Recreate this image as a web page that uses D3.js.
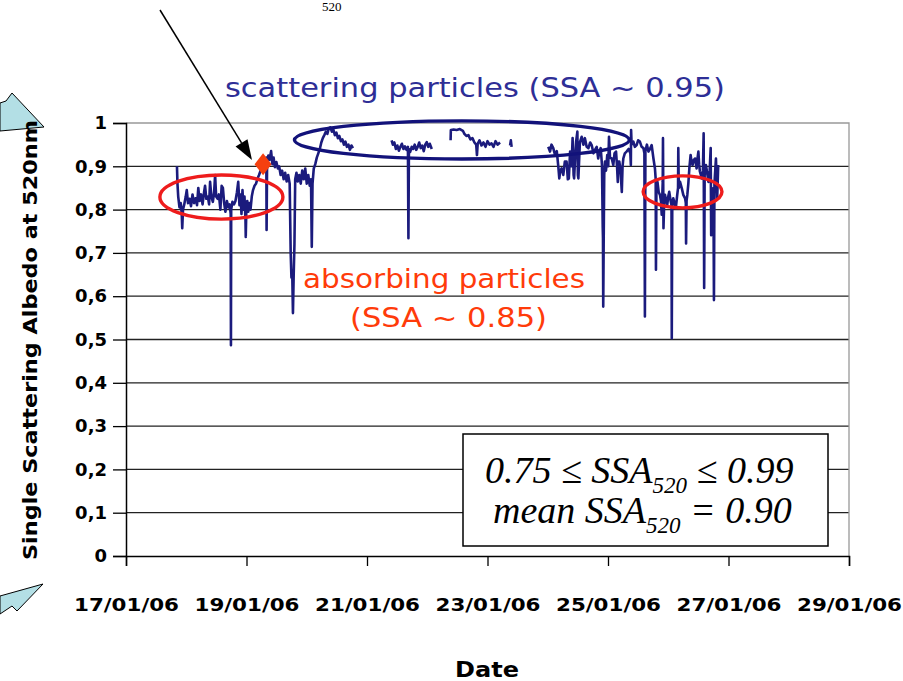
<!DOCTYPE html>
<html><head><meta charset="utf-8">
<script src="https://cdn.jsdelivr.net/npm/d3@7"></script>
<style>body{margin:0;background:#fff}svg{display:block}</style>
</head><body><svg id="c" width="903" height="681"></svg>
<script>
// hours after 17/01/06 00:00 (null value = data gap)
const hours = [
20.3,20.5,20.8,21.3,21.8,22.2,22.4,22.7,23.2,23.8,24.2,24.7,25.3,25.9,26.5,27.1,27.7,28.3,28.8,29.3,29.9,30.5,31.1,31.5,32.0,32.6,33.1,33.5,34.0,34.6,35.1,35.5,35.9,36.5,37.0,37.6,38.1,38.6,39.1,39.6,40.2,40.8,41.3,41.7,41.8,41.9,42.4,43.0,43.6,44.2,44.7,45.2,45.6,46.0,46.4,46.8,47.2,47.6,47.7,47.9,48.3,48.7,49.1,49.6,50.1,50.6,51.2,51.8,52.4,53.0,53.6,54.2,54.8,55.4,55.9,56.0,56.2,56.7,57.2,57.8,58.3,58.8,59.3,59.9,60.5,61.0,61.6,62.2,62.8,63.4,64.0,64.6,65.2,65.6,65.9,66.2,66.5,66.8,67.1,67.4,67.9,68.4,69.0,69.6,70.2,70.8,71.4,72.0,72.6,73.2,73.7,74.0,74.3,74.8,75.4,76.0,76.6,77.2,77.8,78.4,79.0,79.6,80.2,80.8,81.4,82.0,82.6,83.2,83.8,84.4,85.0,85.6,86.2,86.8,87.4,88.0,88.6,89.2,89.8,90.4,91.0,
105.8,106.3,106.9,107.5,108.1,108.7,109.3,109.9,110.5,111.1,111.7,112.3,112.5,112.7,113.2,113.8,114.4,115.0,115.6,116.2,116.8,117.4,118.0,118.6,119.2,119.8,120.4,121.0,121.8,122.5,
129.3,129.4,130.5,131.7,133.0,134.2,134.8,135.6,136.4,137.2,138.0,138.8,139.5,139.8,140.1,140.8,141.6,142.4,143.2,144.0,144.8,145.6,146.4,147.2,148.0,149.0,149.5,
153.0,153.3,153.6,154.0,
168.2,168.9,169.5,170.2,170.9,171.6,172.2,172.6,173.0,173.5,174.2,174.8,175.5,176.0,176.4,176.9,177.5,177.9,178.3,178.5,179.0,179.3,179.8,180.0,180.2,180.8,181.5,182.2,182.8,183.5,184.2,184.9,185.5,186.2,186.8,187.5,188.1,188.6,189.1,189.6,189.9,190.0,190.1,190.3,190.5,190.8,191.2,191.7,192.1,192.4,192.8,193.5,194.1,194.6,195.2,195.6,195.9,196.2,196.5,197.0,197.5,197.8,198.1,198.7,199.4,200.2,200.9,201.1,201.2,201.4,202.1,202.7,203.4,204.0,204.7,205.4,206.1,206.5,206.7,206.9,207.5,208.1,
208.7,209.4,210.1,210.7,211.0,211.1,211.3,211.7,212.2,212.7,213.1,213.4,213.8,213.9,214.1,214.4,214.7,215.2,215.6,216.0,216.4,217.0,217.3,217.4,217.6,218.0,218.5,219.0,219.5,219.9,220.0,220.2,220.7,221.4,222.0,222.7,223.0,223.1,223.3,223.6,224.0,224.4,224.9,225.3,225.7,226.2,226.7,227.3,227.7,228.0,228.3,228.6,229.0,229.3,229.8,230.1,230.3,230.5,231.0,231.5,232.0,232.5,232.9,233.1,233.4,233.7,234.0,234.2,234.4,235.0,235.5,235.9
];
const ssa = [
0.900,0.860,0.830,0.805,0.815,0.790,0.757,0.800,0.812,0.830,0.845,0.815,0.825,0.808,0.835,0.815,0.826,0.810,0.850,0.820,0.835,0.812,0.840,0.855,0.825,0.830,0.812,0.864,0.830,0.818,0.840,0.880,0.830,0.825,0.835,0.800,0.855,0.850,0.815,0.795,0.820,0.805,0.812,0.790,0.487,0.800,0.818,0.812,0.820,0.840,0.864,0.810,0.835,0.790,0.845,0.800,0.830,0.775,0.737,0.790,0.820,0.795,0.815,0.800,0.830,0.845,0.855,0.860,0.872,0.880,0.890,0.900,0.910,0.905,0.920,0.753,0.910,0.925,0.915,0.935,0.905,0.920,0.898,0.910,0.895,0.900,0.880,0.890,0.870,0.885,0.865,0.880,0.860,0.700,0.643,0.660,0.561,0.650,0.720,0.870,0.885,0.865,0.880,0.860,0.890,0.870,0.895,0.860,0.880,0.855,0.870,0.714,0.860,0.895,0.905,0.920,0.930,0.940,0.955,0.965,0.972,0.980,0.975,0.988,0.990,0.980,0.985,0.972,0.978,0.965,0.970,0.958,0.962,0.950,0.957,0.945,0.950,0.938,0.948,0.942,null,
0.960,0.950,0.955,0.940,0.948,0.936,0.945,0.952,0.940,0.946,0.938,0.945,0.734,0.940,0.933,0.945,0.940,0.950,0.938,0.945,0.955,0.942,0.948,0.935,0.950,0.956,0.945,0.952,0.940,null,
0.960,0.984,0.985,0.984,0.986,0.982,0.975,0.970,0.972,0.962,0.965,0.955,0.950,0.926,0.952,0.960,0.948,0.955,0.945,0.958,0.950,0.953,0.945,0.958,0.950,0.955,null,
0.948,0.960,0.945,null,
0.945,0.934,0.950,0.942,0.926,0.935,0.900,0.872,0.890,0.895,0.880,0.911,0.911,0.870,0.872,0.934,0.900,0.965,0.880,0.872,0.930,0.957,0.980,0.880,0.872,0.955,0.968,0.950,0.965,0.945,0.942,0.955,0.949,0.930,0.938,0.945,0.918,0.935,0.942,0.903,0.760,0.734,0.576,0.740,0.880,0.911,0.890,0.926,0.900,0.968,0.920,0.918,0.903,0.930,0.934,0.900,0.864,0.911,0.911,0.890,0.841,0.900,0.918,0.930,0.934,0.940,0.930,0.903,0.984,0.950,0.957,0.945,0.949,0.960,0.957,0.945,0.942,0.930,0.553,0.935,0.950,0.934,
0.940,0.949,0.918,0.895,0.870,0.661,0.860,0.864,0.840,0.834,0.820,0.788,0.864,0.965,0.757,0.820,0.834,0.820,0.811,0.830,0.841,0.818,0.810,0.503,0.815,0.826,0.815,0.803,0.830,0.850,0.942,0.850,0.864,0.849,0.834,0.826,0.815,0.722,0.820,0.834,0.860,0.895,0.926,0.910,0.903,0.915,0.918,0.895,0.920,0.934,0.905,0.888,0.880,0.872,0.890,0.976,0.619,0.880,0.903,0.885,0.864,0.890,0.942,0.741,0.840,0.834,0.850,0.591,0.860,0.918,0.826,0.903
];
// highlighted point (diamond)
const highlightHour = [54.6];
const highlightValue = [0.905];
// ellipses: [centre hour, centre value, half-width (h), half-height (value)]
const blueEllipse = [133.8, 0.961, 66.7, 0.044];
const redEllipses = [[38.0, 0.829, 24.5, 0.051], [221.7, 0.841, 15.7, 0.037]];
const xTickDates = ["2006-01-17","2006-01-19","2006-01-21","2006-01-23","2006-01-25","2006-01-27","2006-01-29"];
const yTickValues = [0,0.1,0.2,0.3,0.4,0.5,0.6,0.7,0.8,0.9,1];
const yTickLabels = ["0","0,1","0,2","0,3","0,4","0,5","0,6","0,7","0,8","0,9","1"];

const svg = d3.select("#c");
const t0 = Date.UTC(2006,0,17);
const x = d3.scaleUtc().domain([new Date(t0), new Date(Date.UTC(2006,0,29))]).range([126, 849]);
const y = d3.scaleLinear().domain([0,1]).range([556,123]);
const hx = h => x(new Date(t0 + h*3600e3));

// left cyan block arrows
svg.append("polygon").attr("points","0,103 6,101 12,93 44,127 0,131")
  .attr("fill","#b3dfe5").attr("stroke","#000").attr("stroke-width",1);
svg.append("polygon").attr("points","0,596 43,584 17,611 12,606 0,614")
  .attr("fill","#b3dfe5").attr("stroke","#000").attr("stroke-width",1);

// partial top text
svg.append("text").attr("x",322).attr("y",11).attr("font-family","Liberation Serif, serif")
  .attr("font-size",13).text("520");

// gridlines
svg.append("g").selectAll("line").data(yTickValues.filter(v=>v>0 && v<1)).join("line")
  .attr("x1",126).attr("x2",849).attr("y1",d=>y(d)).attr("y2",d=>y(d))
  .attr("stroke","#222").attr("stroke-width",1.3);
// plot border (top, right)
svg.append("path").attr("d",`M126,${y(1)}H849V${y(0)}`).attr("fill","none")
  .attr("stroke","#999").attr("stroke-width",1.3);

// y axis
const yAxis = svg.append("g").attr("transform","translate(126,0)")
  .call(d3.axisLeft(y).tickValues(yTickValues).tickSize(13).tickPadding(6)
    .tickFormat((d,i)=>yTickLabels[i]));
yAxis.select(".domain").attr("stroke","#000").attr("stroke-width",1.5);
yAxis.selectAll(".tick line").attr("stroke","#000").attr("stroke-width",1.3);
yAxis.selectAll("text").attr("font-family","DejaVu Sans, sans-serif").attr("font-weight","bold")
  .attr("font-size",18).attr("fill","#000");

// x axis
const xAxis = svg.append("g").attr("transform",`translate(0,${y(0)})`)
  .call(d3.axisBottom(x).tickValues(xTickDates.map(s=>new Date(s+"T00:00:00Z"))).tickSize(10)
    .tickFormat(d3.utcFormat("%d/%m/%y")));
xAxis.select(".domain").attr("stroke","#000").attr("stroke-width",1.5);
xAxis.selectAll(".tick line").attr("stroke","#000").attr("stroke-width",1.3);
xAxis.selectAll("text").attr("font-family","DejaVu Sans, sans-serif").attr("font-weight","bold")
  .attr("font-size",18).attr("fill","#000").attr("y",55).attr("dy",0)
  .attr("textLength",105).attr("lengthAdjust","spacingAndGlyphs");

// axis titles
svg.append("text").attr("transform","translate(37,340) rotate(-90)").attr("text-anchor","middle")
  .attr("font-family","DejaVu Sans, sans-serif").attr("font-weight","bold").attr("font-size",19)
  .attr("textLength",440).attr("lengthAdjust","spacingAndGlyphs")
  .text("Single Scattering Albedo at 520nm");
svg.append("text").attr("x",487).attr("y",677).attr("text-anchor","middle")
  .attr("font-family","DejaVu Sans, sans-serif").attr("font-weight","bold").attr("font-size",22)
  .attr("textLength",64).attr("lengthAdjust","spacingAndGlyphs").text("Date");

// data line
const pts = hours.map((h,i)=>({t:new Date(t0+h*3600e3), v:ssa[i]}));
const line = d3.line().defined(d=>d.v!=null).x(d=>x(d.t)).y(d=>y(d.v));
svg.append("path").datum(pts).attr("d",line).attr("fill","none")
  .attr("stroke","#1b1b7d").attr("stroke-width",2.6).attr("stroke-linejoin","round");

// ellipses
const ell = (e,col)=>svg.append("ellipse")
  .attr("cx",hx(e[0])).attr("cy",y(e[1]))
  .attr("rx",hx(e[0]+e[2])-hx(e[0])).attr("ry",y(0)-y(e[3]))
  .attr("fill","none").attr("stroke",col).attr("stroke-width",3.4);
ell(blueEllipse,"#12127a");
redEllipses.forEach(e=>ell(e,"#ee1c1c"));

// diamond marker
highlightHour.forEach((h,i)=>{
  const cx=hx(h), cy=y(highlightValue[i]);
  svg.append("polygon").attr("points",`${cx},${cy-11} ${cx+8.5},${cy} ${cx},${cy+11} ${cx-8.5},${cy}`)
    .attr("fill","#f5400f");
});

// black arrow
const ax0=160, ay0=10, ax1=252, ay1=160;
const L=Math.hypot(ax1-ax0, ay1-ay0), ux=(ax1-ax0)/L, uy=(ay1-ay0)/L;
const bx=ax1-ux*20, by=ay1-uy*20;
svg.append("line").attr("x1",ax0).attr("y1",ay0).attr("x2",bx).attr("y2",by)
  .attr("stroke","#000").attr("stroke-width",1.5);
svg.append("polygon").attr("points",`${ax1},${ay1} ${bx-uy*7},${by+ux*7} ${bx+uy*7},${by-ux*7}`).attr("fill","#000");

// annotations
const ann = (txt,xx,yy,len,col)=>svg.append("text").attr("x",xx).attr("y",yy)
  .attr("font-family","DejaVu Sans, sans-serif").attr("font-size",27).attr("fill",col)
  .attr("textLength",len).attr("lengthAdjust","spacingAndGlyphs").text(txt);
ann("scattering particles (SSA ~ 0.95)",225,97,500,"#2e2e96");
ann("absorbing particles",303,288,282,"#ff3b0a");
ann("(SSA ~ 0.85)",350,327,197,"#ff3b0a");

// stats box
svg.append("rect").attr("x",463).attr("y",434).attr("width",365).attr("height",112)
  .attr("fill","#fff").attr("stroke","#000").attr("stroke-width",1.5);
const tb = (parts,xx,yy)=>{
  const t = svg.append("text").attr("x",xx).attr("y",yy).attr("font-family","Liberation Serif, serif")
    .attr("font-style","italic").attr("font-size",38);
  parts.forEach(p=>{
    const s=t.append("tspan").text(p[0]);
    if(p[1]){ s.attr("font-size",23).attr("dy",10); }
    else if(p[2]){ s.attr("dy",-10); }
  });
};
tb([["0.75 \u2264 SSA"],["520",1],[" \u2264 0.99",0,1]],485,483);
tb([["mean SSA"],["520",1],[" = 0.90",0,1]],493,523);
</script></body></html>
